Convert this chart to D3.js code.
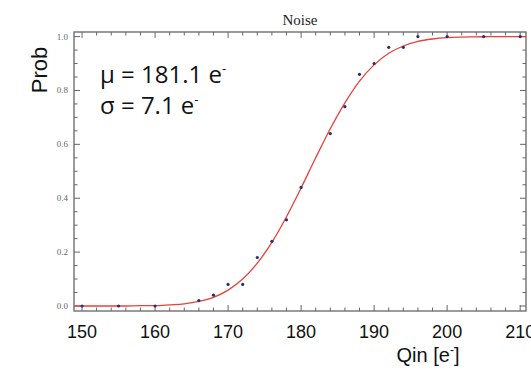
<!DOCTYPE html>
<html>
<head>
<meta charset="utf-8">
<script src="https://cdn.jsdelivr.net/npm/d3@7"></script>
<style>
  body { margin: 0; background: #fff; }
  svg { display: block; }
</style>
</head>
<body>
<svg id="chart" width="531" height="374"></svg>
<script>
// measured points (blue dots)
const qin  = [150, 155, 160, 166, 168, 170, 172, 174, 176, 178, 180, 184, 186, 188, 190, 192, 194, 196, 200, 205, 210];
const prob = [0, 0, 0, 0.02, 0.04, 0.08, 0.08, 0.18, 0.24, 0.32, 0.44, 0.64, 0.74, 0.86, 0.90, 0.96, 0.96, 1.0, 1.0, 1.0, 1.0];

// fitted curve (red)
const fitX = [148, 150, 152, 154, 156, 158, 160, 162, 164, 166, 168, 170, 172, 174, 176, 178, 180, 182, 184, 186, 188, 190, 192, 194, 196, 198, 200, 202, 204, 206, 208, 210, 212];
const fitY = [0, 0, 0, 0, 0, 0.001, 0.001, 0.004, 0.008, 0.017, 0.032, 0.059, 0.100, 0.159, 0.236, 0.331, 0.438, 0.550, 0.658, 0.754, 0.835, 0.895, 0.938, 0.965, 0.982, 0.991, 0.996, 0.998, 0.999, 1.0, 1.0, 1.0, 1.0];

const xTicks = [150, 160, 170, 180, 190, 200, 210];
const yTicks = [0, 0.2, 0.4, 0.6, 0.8, 1.0];

const svg = d3.select("#chart");
const pLeft = 74, pRight = 526, pTop = 32, pBottom = 311;

let x = d3.scaleLinear().domain([148.9, 210.8]).range([pLeft, pRight]);
let y = d3.scaleLinear().domain([-0.0186, 1.017]).range([pBottom, pTop]);

const frameColor = "#666";

svg.append("clipPath").attr("id", "clip")
  .append("rect").attr("x", pLeft).attr("y", pTop).attr("width", pRight - pLeft).attr("height", pBottom - pTop);

// minor / major ticks on all sides
let minorX = d3.range(150, 211, 2);
let minorY = d3.range(0, 1.001, 0.05);
let tk = svg.append("g").attr("stroke", frameColor).attr("stroke-width", 1);
minorX.forEach(function(v) {
  let len = (v % 10 === 0) ? 6 : 3.5;
  tk.append("line").attr("x1", x(v)).attr("x2", x(v)).attr("y1", pBottom).attr("y2", pBottom - len);
  tk.append("line").attr("x1", x(v)).attr("x2", x(v)).attr("y1", pTop).attr("y2", pTop + len);
});
minorY.forEach(function(v, i) {
  let len = (i % 4 === 0) ? 6 : 3.5;
  tk.append("line").attr("y1", y(v)).attr("y2", y(v)).attr("x1", pLeft).attr("x2", pLeft + len);
  tk.append("line").attr("y1", y(v)).attr("y2", y(v)).attr("x1", pRight).attr("x2", pRight - len);
});

// frame
svg.append("rect")
  .attr("x", pLeft).attr("y", pTop).attr("width", pRight - pLeft).attr("height", pBottom - pTop)
  .attr("fill", "none").attr("stroke", frameColor).attr("stroke-width", 1.3);

// y tick labels (small serif)
svg.append("g").selectAll("text").data(yTicks).enter().append("text")
  .attr("x", pLeft - 6).attr("y", d => y(d) + 3)
  .attr("text-anchor", "end")
  .attr("font-family", "Liberation Serif, serif").attr("font-size", 9)
  .attr("fill", "#666")
  .text(d => d3.format(".1f")(d));

// x tick labels (large sans)
svg.append("g").selectAll("text").data(xTicks).enter().append("text")
  .attr("x", d => x(d)).attr("y", 338)
  .attr("text-anchor", "middle")
  .attr("font-family", "Liberation Sans, Arial, sans-serif").attr("font-size", 18)
  .attr("fill", "#111")
  .text(d => d);

// fitted curve
let line = d3.line().x((d, i) => x(fitX[i])).y(d => y(d)).curve(d3.curveMonotoneX);
svg.append("path")
  .attr("clip-path", "url(#clip)")
  .attr("d", line(fitY))
  .attr("fill", "none").attr("stroke", "#e8413c").attr("stroke-width", 1.3);

// data points
svg.append("g").selectAll("circle").data(prob).enter().append("circle")
  .attr("cx", (d, i) => x(qin[i])).attr("cy", d => y(d))
  .attr("r", 1.6).attr("fill", "#2b2f6e");

// title
svg.append("text").attr("x", 300).attr("y", 25).attr("text-anchor", "middle")
  .attr("font-family", "Liberation Serif, serif").attr("font-size", 15).attr("fill", "#222")
  .text("Noise");

// axis titles
svg.append("text").attr("transform", "translate(47,70) rotate(-90)").attr("text-anchor", "middle")
  .attr("font-family", "Liberation Sans, Arial, sans-serif").attr("font-size", 22).attr("fill", "#111")
  .text("Prob");

let xl = svg.append("text").attr("x", 428).attr("y", 362).attr("text-anchor", "middle")
  .attr("font-family", "Liberation Sans, Arial, sans-serif").attr("font-size", 20).attr("fill", "#111");
xl.append("tspan").text("Qin [e");
xl.append("tspan").attr("font-size", 12).attr("dy", -8).text("-");
xl.append("tspan").attr("dy", 8).text("]");

// fit parameters
function annot(ypos, main) {
  let t = svg.append("text").attr("x", 100).attr("y", ypos)
    .attr("font-family", "Open Sans, sans-serif").attr("font-size", 24).attr("fill", "#111");
  t.append("tspan").text(main);
  t.append("tspan").attr("font-size", 13).attr("dy", -10).text("-");
}
annot(83, "μ = 181.1 e");
annot(114, "σ = 7.1 e");
</script>
</body>
</html>
